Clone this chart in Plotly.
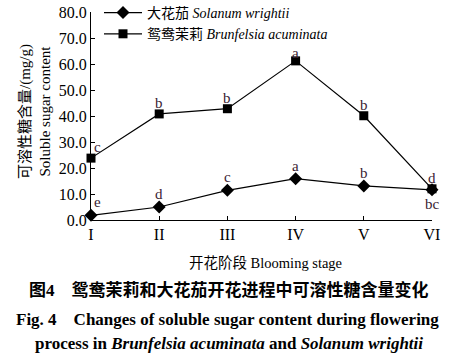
import plotly.graph_objects as go

stages = ["I", "II", "III", "IV", "V", "VI"]
solanum = [1.8, 5.0, 11.4, 15.9, 13.1, 11.6]
brunfelsia = [23.8, 40.8, 42.8, 61.2, 40.1, 12.0]
solanum_letters = ["e", "d", "c", "a", "b", "bc"]
brunfelsia_letters = ["c", "b", "b", "a", "b", "d"]

SERIF = "Liberation Serif, Times New Roman, Noto Sans CJK SC, serif"
xs = list(range(len(stages)))

W, H = 453, 361
L, R, T, B = 91, 21, 12, 141
PW, PH = W - L - R, H - T - B

fig = go.Figure()
fig.add_trace(go.Scatter(
    x=xs, y=solanum, mode="lines+markers",
    name="大花茄 <i>Solanum wrightii</i>",
    line=dict(color="black", width=1.2),
    marker=dict(symbol="diamond", size=10, color="black"),
    cliponaxis=False))
fig.add_trace(go.Scatter(
    x=xs, y=brunfelsia, mode="lines+markers",
    name="鸳鸯茉莉 <i>Brunfelsia acuminata</i>",
    line=dict(color="black", width=1.2),
    marker=dict(symbol="square", size=9, color="black"),
    cliponaxis=False))

LC = "#3a2232"
anns = []
for i, (v, t) in enumerate(zip(brunfelsia, brunfelsia_letters)):
    anns.append(dict(x=i, y=v, xref="x", yref="y", text=t, showarrow=False,
                     yanchor="bottom", yshift=-2 if i == 3 else 1,
                     xshift=6 if i == 0 else 0,
                     font=dict(family=SERIF, size=15, color=LC)))
for i, (v, t) in enumerate(zip(solanum, solanum_letters)):
    if i == 5:
        anns.append(dict(x=i, y=v, xref="x", yref="y", text=t, showarrow=False,
                         yanchor="top", yshift=-4,
                         font=dict(family=SERIF, size=15, color=LC)))
    else:
        anns.append(dict(x=i, y=v, xref="x", yref="y", text=t, showarrow=False,
                         yanchor="bottom", yshift=3, xshift=6 if i == 0 else 0,
                         font=dict(family=SERIF, size=15, color=LC)))


def px_to_paper(px, py):
    return (px - L) / PW, (H - B - py) / PH


xt, yt = px_to_paper(265, 263)
anns.append(dict(x=xt, y=yt, xref="paper", yref="paper", showarrow=False,
                 text="开花阶段 Blooming stage", xanchor="center", yanchor="middle",
                 font=dict(family=SERIF, size=14.5, color="black")))
xt, yt = px_to_paper(35, 112)
anns.append(dict(x=xt, y=yt, xref="paper", yref="paper", showarrow=False,
                 text="可溶性糖含量/(mg/g)<br>Soluble sugar content", textangle=-90,
                 xanchor="center", yanchor="middle", align="center",
                 font=dict(family=SERIF, size=15, color="black")))

cap_font = dict(family=SERIF, size=17, color="black")
captions = [
    (229, 290, "<b>图4　鸳鸯茉莉和大花茄开花进程中可溶性糖含量变化</b>"),
    (227, 319, "<b>Fig. 4　Changes of soluble sugar content during flowering</b>"),
    (229, 343, "<b>process in <i>Brunfelsia acuminata</i> and <i>Solanum wrightii</i></b>"),
]
for cx, cy, txt in captions:
    xt, yt = px_to_paper(cx, cy)
    anns.append(dict(x=xt, y=yt, xref="paper", yref="paper", showarrow=False,
                     text=txt, xanchor="center", yanchor="middle", font=cap_font))

lx, ly = px_to_paper(99, -3)
fig.update_layout(
    width=W, height=H,
    margin=dict(l=L, r=R, t=T, b=B, autoexpand=False),
    paper_bgcolor="white", plot_bgcolor="white",
    showlegend=True,
    legend=dict(x=lx, y=ly, xanchor="left", yanchor="top",
                bgcolor="rgba(0,0,0,0)", font=dict(family=SERIF, size=14, color="black"),
                itemwidth=38, tracegroupgap=0),
    annotations=anns,
    xaxis=dict(range=[0, 5], tickvals=xs, ticktext=stages, showgrid=False,
               zeroline=False, showline=True, linecolor="black", linewidth=1,
               ticks="inside", ticklen=4, tickcolor="black",
               tickfont=dict(family=SERIF, size=16, color="black")),
    yaxis=dict(range=[0, 80], dtick=10, tickformat=".1f", showgrid=False,
               zeroline=False, showline=True, linecolor="black", linewidth=1,
               ticks="inside", ticklen=4, tickcolor="black",
               tickfont=dict(family=SERIF, size=16, color="black")),
)
fig.write_html("out.html", config={"displayModeBar": False},
               post_script="document.body.style.margin='0';")
